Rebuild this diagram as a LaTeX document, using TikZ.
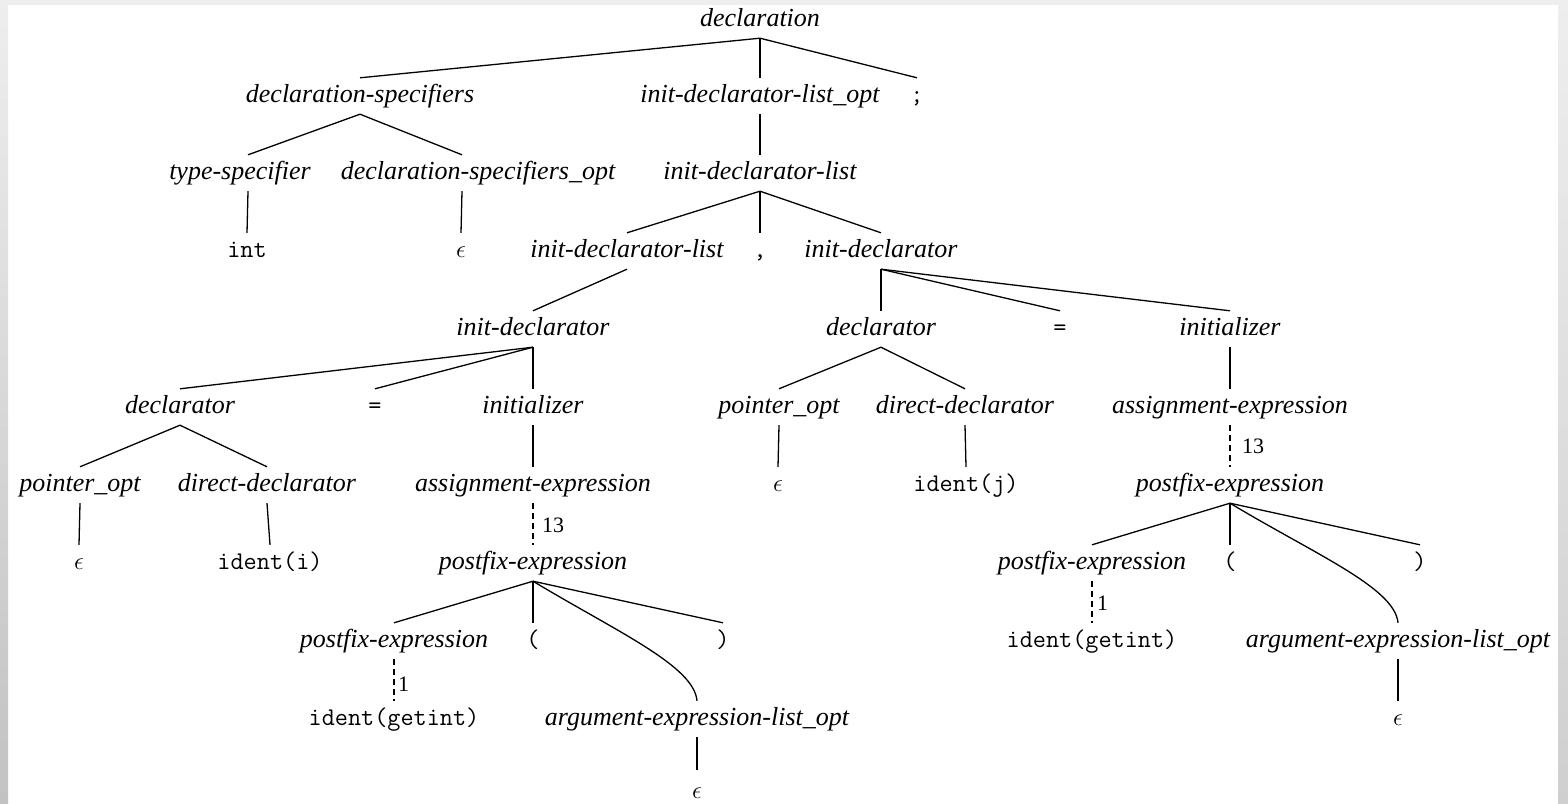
\documentclass[tikz,border=0pt]{standalone}
\usepackage{fontspec}
\setmainfont{Liberation Serif}
\definecolor{framelight}{HTML}{EEEEEE}
\definecolor{framedark}{HTML}{C2C2C2}
\definecolor{framemid}{HTML}{CFCFCF}
\newcommand\ntfont{\fontsize{26}{30}\selectfont\itshape}
\newcommand\tkfont{\fontsize{25.5}{30}\selectfont\ttfamily\addfontfeatures{FakeBold=1.2}}
\newcommand\epfont{\fontsize{26}{30}\selectfont}
\newcommand\numfont{\fontsize{22}{26}\selectfont}
\tikzset{
  nt/.style={font=\ntfont, inner xsep=0pt, inner ysep=6pt, text height=18pt, text depth=6pt},
  tk/.style={nt, font=\tkfont},
  ep/.style={nt, font=\epfont},
  br/.style={draw, line width=1.3pt},
  der/.style={br, dash pattern=on 6pt off 4pt},
  num/.style={font=\numfont, inner sep=0pt, anchor=west},
}
\begin{document}
\begin{tikzpicture}[x=1pt,y=-1pt]
\useasboundingbox (0,0) rectangle (1568,803);
% page and frame
\fill[white] (0,0) rectangle (1568,803);
\fill[framelight] (0,0) rectangle (1568,5);
\shade[top color=framelight, bottom color=framedark] (0,0) rectangle (8,803);
\shade[top color=framelight, bottom color=framemid] (1558,0) rectangle (1568,803);

% ---- nodes ----
\node[nt] (root)   at (760,20)  {declaration};
\node[nt] (ds)     at (360,96)  {declaration-specifiers};
\node[nt] (idlopt) at (760,96)  {init-declarator-list\_opt};
\node[tk] (semi)   at (917,96)  {;};
\node[nt] (ts)     at (240,173) {type-specifier};
\node[nt] (dso)    at (478,173) {declaration-specifiers\_opt};
\node[nt] (idla)   at (760,173) {init-declarator-list};
\node[tk] (int)    at (247,251) {int};
\node[ep] (epsa)   at (461,251) {$\epsilon$};
\node[nt] (idlb)   at (627,251) {init-declarator-list};
\node[tk] (comma)  at (760,251) {,};
\node[nt] (ida)    at (881,251) {init-declarator};
\node[nt] (idb)    at (533,329) {init-declarator};
\node[nt] (dcb)    at (881,329) {declarator};
\node[tk] (eqb)    at (1060,329) {=};
\node[nt] (inb)    at (1230,329) {initializer};
\node[nt] (dca)    at (180,407) {declarator};
\node[tk] (eqa)    at (375,407) {=};
\node[nt] (ina)    at (533,407) {initializer};
\node[nt] (ptb)    at (779,407) {pointer\_opt};
\node[nt] (ddb)    at (965,407) {direct-declarator};
\node[nt] (aeb)    at (1230,407) {assignment-expression};
\node[nt] (pta)    at (80,485)  {pointer\_opt};
\node[nt] (dda)    at (267,485) {direct-declarator};
\node[nt] (aea)    at (533,485) {assignment-expression};
\node[ep] (epsc)   at (778,485) {$\epsilon$};
\node[tk] (idj)    at (966,485) {ident(j)};
\node[nt] (peb)    at (1230,485) {postfix-expression};
\node[ep] (epsb)   at (79,563)  {$\epsilon$};
\node[tk] (idi)    at (270,563) {ident(i)};
\node[nt] (pea)    at (533,563) {postfix-expression};
\node[nt] (pebb)   at (1092,563) {postfix-expression};
\node[tk] (lpb)    at (1230,563) {(};
\node[tk] (rpb)    at (1420,563) {)};
\node[nt] (peaa)   at (394,641) {postfix-expression};
\node[tk] (lpa)    at (533,641) {(};
\node[tk] (rpa)    at (723,641) {)};
\node[tk] (gib)    at (1092,641) {ident(getint)};
\node[nt] (aelb)   at (1398,641) {argument-expression-list\_opt};
\node[tk] (gia)    at (394,719) {ident(getint)};
\node[nt] (aela)   at (697,719) {argument-expression-list\_opt};
\node[ep] (epse)   at (1398,719) {$\epsilon$};
\node[ep] (epsd)   at (697,792) {$\epsilon$};

% derivation step counts
\node[num] (na) at (542,525)  {13};
\node[num] (nb) at (1242,446) {13};
\node[num] (nc) at (398,684)  {1};
\node[num] (nd) at (1097,603) {1};

% ---- branches ----
\draw[br] (root.south) -- (ds.north);
\draw[br] (root.south) -- (idlopt.north);
\draw[br] (root.south) -- (semi.north);

\draw[br] (ds.south) -- ([xshift=8pt]ts.north);
\draw[br] (ds.south) -- ([xshift=-16pt]dso.north);
\draw[br] ([xshift=8pt]ts.south) -- (int.north);
\draw[br] ([xshift=-16pt]dso.south) -- (epsa.north);

\draw[br] (idlopt.south) -- (idla.north);
\draw[br] (idla.south) -- (idlb.north);
\draw[br] (idla.south) -- (comma.north);
\draw[br] (idla.south) -- (ida.north);

\draw[br] (idlb.south) -- (idb.north);
\draw[br] (idb.south) -- (dca.north);
\draw[br] (idb.south) -- (eqa.north);
\draw[br] (idb.south) -- (ina.north);
\draw[br] (dca.south) -- (pta.north);
\draw[br] (dca.south) -- (dda.north);
\draw[br] (pta.south) -- (epsb.north);
\draw[br] (dda.south) -- (idi.north);
\draw[br] (ina.south) -- (aea.north);
\draw[der] (aea.south) -- (pea.north);
\draw[br] (pea.south) -- (peaa.north);
\draw[br] (pea.south) -- (lpa.north);
\draw[br] (pea.south) -- (rpa.north);
\draw[br] (pea.south) .. controls +(-31:100pt) and +(95:35pt) .. (aela.north);
\draw[der] (peaa.south) -- (gia.north);
\draw[br] (aela.south) -- ([yshift=4pt]epsd.north);

\draw[br] (ida.south) -- (dcb.north);
\draw[br] (ida.south) -- (eqb.north);
\draw[br] (ida.south) -- (inb.north);
\draw[br] (dcb.south) -- (ptb.north);
\draw[br] (dcb.south) -- (ddb.north);
\draw[br] (ptb.south) -- (epsc.north);
\draw[br] (ddb.south) -- (idj.north);
\draw[br] (inb.south) -- (aeb.north);
\draw[der] (aeb.south) -- (peb.north);
\draw[br] (peb.south) -- (pebb.north);
\draw[br] (peb.south) -- (lpb.north);
\draw[br] (peb.south) -- (rpb.north);
\draw[br] (peb.south) .. controls +(-31:100pt) and +(95:35pt) .. (aelb.north);
\draw[der] (pebb.south) -- (gib.north);
\draw[br] (aelb.south) -- (epse.north);
\end{tikzpicture}
\end{document}
